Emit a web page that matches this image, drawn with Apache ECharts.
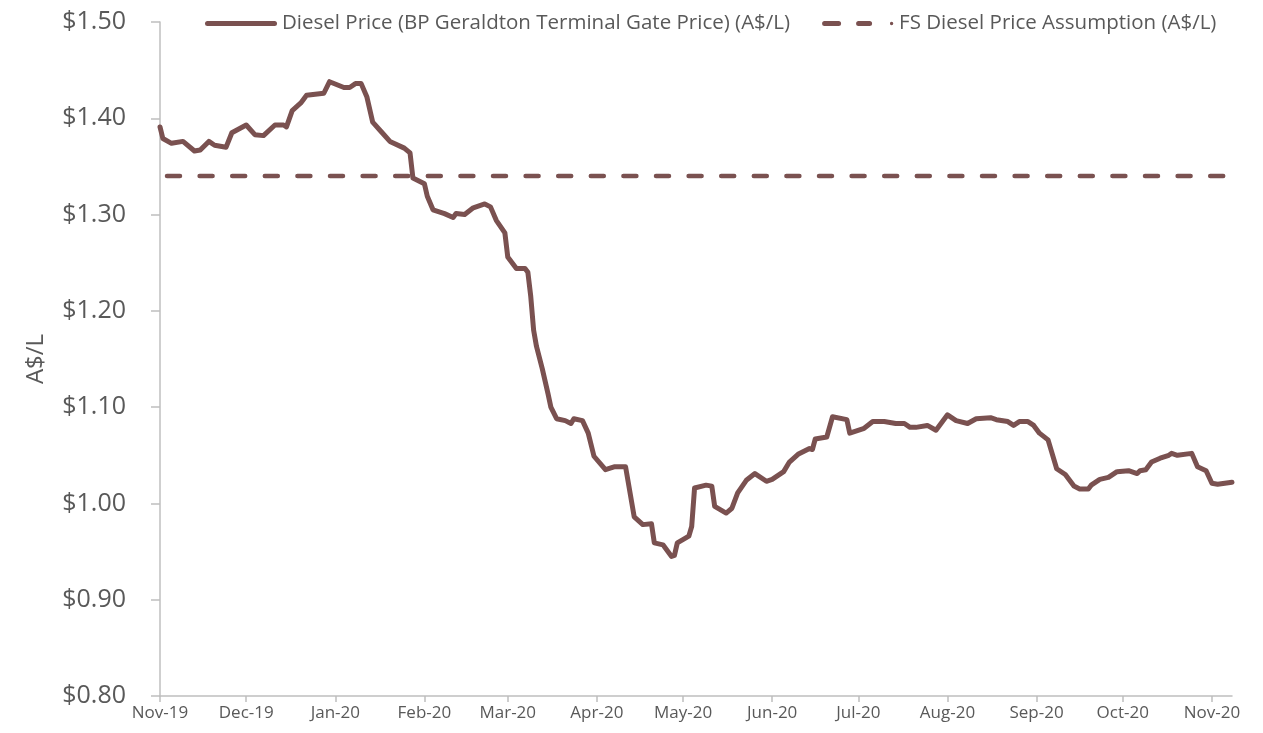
<!DOCTYPE html>
<html>
<head>
<meta charset="utf-8">
<title>Diesel Price</title>
<script src="https://cdn.jsdelivr.net/npm/echarts@6/dist/echarts.min.js"></script>
<style>
  html, body { margin: 0; padding: 0; background: #fff; }
  #chart { width: 1263px; height: 733px; }
</style>
</head>
<body>
<div id="chart"></div>
<script>
// 数据
var dates = ['2019-11-01', '2019-11-02', '2019-11-05', '2019-11-09', '2019-11-13', '2019-11-15', '2019-11-18', '2019-11-20', '2019-11-24', '2019-11-26',
  '2019-12-01', '2019-12-04', '2019-12-07', '2019-12-11', '2019-12-14', '2019-12-15', '2019-12-17', '2019-12-20', '2019-12-22', '2019-12-28', '2019-12-30',
  '2020-01-04', '2020-01-06', '2020-01-08', '2020-01-10', '2020-01-12', '2020-01-14', '2020-01-17', '2020-01-20', '2020-01-25', '2020-01-27', '2020-01-28',
  '2020-02-01', '2020-02-02', '2020-02-04', '2020-02-08', '2020-02-11', '2020-02-12', '2020-02-15', '2020-02-18', '2020-02-22', '2020-02-24', '2020-02-26', '2020-02-29',
  '2020-03-01', '2020-03-04', '2020-03-07', '2020-03-08', '2020-03-09', '2020-03-10', '2020-03-11', '2020-03-13', '2020-03-15', '2020-03-16', '2020-03-18', '2020-03-21', '2020-03-23', '2020-03-24', '2020-03-27', '2020-03-29', '2020-03-31',
  '2020-04-04', '2020-04-07', '2020-04-11', '2020-04-14', '2020-04-17', '2020-04-20', '2020-04-21', '2020-04-24', '2020-04-27', '2020-04-28', '2020-04-29',
  '2020-05-03', '2020-05-04', '2020-05-05', '2020-05-09', '2020-05-11', '2020-05-12', '2020-05-16', '2020-05-18', '2020-05-20', '2020-05-23', '2020-05-26', '2020-05-30',
  '2020-06-01', '2020-06-05', '2020-06-07', '2020-06-10', '2020-06-14', '2020-06-15', '2020-06-16', '2020-06-20', '2020-06-22', '2020-06-27', '2020-06-28',
  '2020-07-03', '2020-07-06', '2020-07-10', '2020-07-14', '2020-07-17', '2020-07-19', '2020-07-21', '2020-07-25', '2020-07-28',
  '2020-08-01', '2020-08-04', '2020-08-08', '2020-08-11', '2020-08-16', '2020-08-18', '2020-08-22', '2020-08-24', '2020-08-26', '2020-08-29', '2020-08-31',
  '2020-09-02', '2020-09-05', '2020-09-08', '2020-09-11', '2020-09-14', '2020-09-16', '2020-09-19', '2020-09-20', '2020-09-23', '2020-09-26', '2020-09-29',
  '2020-10-03', '2020-10-06', '2020-10-07', '2020-10-09', '2020-10-11', '2020-10-14', '2020-10-17', '2020-10-18', '2020-10-20', '2020-10-25', '2020-10-27', '2020-10-30',
  '2020-11-01', '2020-11-03', '2020-11-08']

var dieselPrice = [1.391, 1.379, 1.374, 1.376, 1.366, 1.367, 1.376, 1.372, 1.370, 1.385,
  1.393, 1.383, 1.382, 1.393, 1.393, 1.391, 1.408, 1.416, 1.424, 1.426, 1.438,
  1.432, 1.432, 1.436, 1.436, 1.422, 1.396, 1.386, 1.376, 1.369, 1.364, 1.338,
  1.332, 1.319, 1.305, 1.301, 1.297, 1.301, 1.300, 1.307, 1.311, 1.308, 1.294, 1.281,
  1.256, 1.244, 1.244, 1.240, 1.215, 1.180, 1.163, 1.140, 1.114, 1.100, 1.088, 1.086, 1.083, 1.088, 1.086, 1.073, 1.049,
  1.035, 1.038, 1.038, 0.986, 0.978, 0.979, 0.959, 0.957, 0.945, 0.946, 0.959,
  0.966, 0.976, 1.016, 1.019, 1.018, 0.997, 0.990, 0.995, 1.011, 1.024, 1.031, 1.023,
  1.025, 1.033, 1.043, 1.051, 1.057, 1.056, 1.067, 1.069, 1.090, 1.087, 1.073,
  1.078, 1.085, 1.085, 1.083, 1.083, 1.079, 1.079, 1.081, 1.076,
  1.092, 1.086, 1.083, 1.088, 1.089, 1.087, 1.085, 1.081, 1.085, 1.085, 1.081,
  1.073, 1.066, 1.036, 1.030, 1.018, 1.015, 1.015, 1.019, 1.025, 1.027, 1.033,
  1.034, 1.031, 1.034, 1.035, 1.043, 1.047, 1.050, 1.052, 1.050, 1.052, 1.038, 1.034,
  1.021, 1.020, 1.022]

var assumptionDates = ['2019-11-01', '2020-11-08']
var assumptionPrice = [1.34, 1.34]

var seriesNames = ['Diesel Price (BP Geraldton Terminal Gate Price) (A$/L)', 'FS Diesel Price Assumption (A$/L)']
var monthNames = ['Jan', 'Feb', 'Mar', 'Apr', 'May', 'Jun', 'Jul', 'Aug', 'Sep', 'Oct', 'Nov', 'Dec']
var yMin = 0.8
var yMax = 1.5
var yStep = 0.1

function pairs (xs, ys) {
  var out = []
  for (var i = 0; i < xs.length; i++) {
    out.push([xs[i], ys[i]])
  }
  return out
}

var lineColor = '#7a5150'
var textColor = '#595959'
var axisColor = '#bfbfbf'
var font = 'Open Sans'

// legend icons: thick bar, and dash-dash-dot like Excel
var solidIcon = 'path://M2.5,0 h67 a2.5,2.5 0 0 1 0,5 h-67 a2.5,2.5 0 0 1 0,-5 z'
var dashIcon = 'path://M2.5,0 h14 a2.5,2.5 0 0 1 0,5 h-14 a2.5,2.5 0 0 1 0,-5 z' +
  ' M36.5,0 h11 a2.5,2.5 0 0 1 0,5 h-11 a2.5,2.5 0 0 1 0,-5 z' +
  ' M69.5,0.8 a1.7,1.7 0 0 1 0,3.4 a1.7,1.7 0 0 1 0,-3.4 z M72,0 v5 z'

var charts = echarts.init(document.getElementById('chart'))
var options = {
  animation: false,
  grid: {
    left: 160,
    right: 31,
    top: 22,
    bottom: 37
  },
  legend: {
    left: 200,
    top: 8,
    itemWidth: 72,
    itemHeight: 5,
    itemGap: 32,
    data: [
      { name: seriesNames[0], icon: solidIcon },
      { name: seriesNames[1], icon: dashIcon }
    ],
    textStyle: {
      fontFamily: font,
      fontSize: 20.5,
      color: textColor
    }
  },
  xAxis: {
    type: 'time',
    min: assumptionDates[0],
    max: assumptionDates[1],
    minInterval: 28 * 86400000,
    maxInterval: 31 * 86400000,
    splitLine: { show: false },
    axisLine: {
      lineStyle: { color: axisColor, width: 1.5 }
    },
    axisTick: {
      show: true,
      length: 6,
      lineStyle: { color: axisColor, width: 1.5 }
    },
    axisLabel: {
      fontFamily: font,
      fontSize: 17,
      color: textColor,
      margin: 9,
      formatter: function (val) {
        var d = new Date(val)
        return monthNames[d.getMonth()] + '-' + String(d.getFullYear()).slice(2)
      }
    }
  },
  yAxis: {
    type: 'value',
    min: yMin,
    max: yMax,
    interval: yStep,
    name: 'A$/L',
    nameLocation: 'middle',
    nameGap: 112,
    nameRotate: 90,
    nameTextStyle: {
      fontFamily: font,
      fontSize: 24,
      color: textColor
    },
    splitLine: { show: false },
    axisLine: {
      show: true,
      lineStyle: { color: axisColor, width: 1.5 }
    },
    axisTick: {
      show: true,
      length: 9,
      lineStyle: { color: axisColor, width: 1.5 }
    },
    axisLabel: {
      fontFamily: font,
      fontSize: 25,
      color: textColor,
      margin: 34,
      formatter: function (v) {
        return '$' + v.toFixed(2)
      }
    }
  },
  series: [{
    name: seriesNames[0],
    type: 'line',
    data: pairs(dates, dieselPrice),
    symbol: 'none',
    lineStyle: {
      color: lineColor,
      width: 5,
      join: 'round',
      cap: 'round'
    },
    itemStyle: { color: lineColor }
  }, {
    name: seriesNames[1],
    type: 'line',
    data: pairs(assumptionDates, assumptionPrice),
    symbol: 'none',
    lineStyle: {
      color: lineColor,
      width: 4.5,
      type: [13, 19.6],
      dashOffset: -7,
      cap: 'round'
    },
    itemStyle: { color: lineColor }
  }]
}
charts.clear()
charts.setOption(options)
window.addEventListener('resize', function () {
  charts.resize()
})
</script>
</body>
</html>
